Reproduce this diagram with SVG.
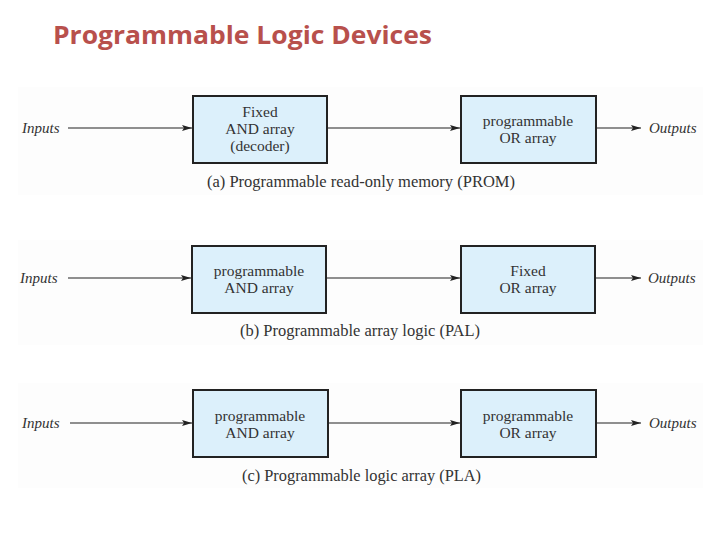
<svg xmlns="http://www.w3.org/2000/svg" width="720" height="540" viewBox="0 0 720 540">
<style>
.title{font-family:"Open Sans","Liberation Sans",sans-serif;font-weight:bold;font-size:25px;fill:#b8504c}
.box{fill:#dcf0fb;stroke:#222;stroke-width:2}
.bt{font-family:"Liberation Serif",serif;font-size:15.5px;fill:#333;text-anchor:middle}
.io{font-family:"Liberation Serif",serif;font-size:15px;font-style:italic;fill:#333}
.cap{font-family:"Liberation Serif",serif;font-size:16.5px;fill:#333}
.ln{stroke:#222;stroke-width:1.2;fill:none;marker-end:url(#ah)}
.panel{fill:#fdfdfd}
</style>
<defs>
<marker id="ah" markerWidth="10" markerHeight="6" refX="10" refY="3" orient="auto" markerUnits="userSpaceOnUse">
<path d="M0,0 L10,3 L0,6 L2,3 Z" fill="#222"/>
</marker>
</defs>
<rect width="720" height="540" fill="#fff"/>
<rect class="panel" x="18" y="87" width="685" height="108"/>
<rect class="panel" x="18" y="240" width="685" height="105"/>
<rect class="panel" x="18" y="383" width="685" height="105"/>
<text class="title" x="53" y="44" textLength="379" lengthAdjust="spacingAndGlyphs">Programmable Logic Devices</text>

<g id="connectors">
<line class="ln" x1="68" y1="128" x2="192" y2="128"/>
<line class="ln" x1="328" y1="128" x2="460" y2="128"/>
<line class="ln" x1="597" y1="128" x2="641" y2="128"/>
<line class="ln" x1="68" y1="278" x2="191" y2="278"/>
<line class="ln" x1="327" y1="278" x2="460" y2="278"/>
<line class="ln" x1="596" y1="278" x2="641" y2="278"/>
<line class="ln" x1="70" y1="423" x2="192" y2="423"/>
<line class="ln" x1="329" y1="423" x2="460" y2="423"/>
<line class="ln" x1="597" y1="423" x2="641" y2="423"/>
</g>

<g id="labels-io">
<text class="io" x="22" y="133">Inputs</text>
<text class="io" x="649" y="133">Outputs</text>
<text class="io" x="20" y="283">Inputs</text>
<text class="io" x="648" y="283">Outputs</text>
<text class="io" x="22" y="428">Inputs</text>
<text class="io" x="649" y="428">Outputs</text>
</g>

<g id="prom-and">
<rect class="box" x="193" y="96" width="134" height="67"/>
<text class="bt" x="260" y="117">Fixed</text>
<text class="bt" x="260" y="134">AND array</text>
<text class="bt" x="260" y="151">(decoder)</text>
</g>
<g id="prom-or">
<rect class="box" x="461" y="96" width="135" height="67"/>
<text class="bt" x="528" y="126">programmable</text>
<text class="bt" x="528" y="143">OR array</text>
</g>
<text class="cap" x="207" y="187" textLength="308" lengthAdjust="spacingAndGlyphs">(a) Programmable read-only memory (PROM)</text>

<g id="pal-and">
<rect class="box" x="192" y="246" width="134" height="67"/>
<text class="bt" x="259" y="276">programmable</text>
<text class="bt" x="259" y="293">AND array</text>
</g>
<g id="pal-or">
<rect class="box" x="461" y="246" width="134" height="67"/>
<text class="bt" x="528" y="276">Fixed</text>
<text class="bt" x="528" y="293">OR array</text>
</g>
<text class="cap" x="240" y="336" textLength="240" lengthAdjust="spacingAndGlyphs">(b) Programmable array logic (PAL)</text>

<g id="pla-and">
<rect class="box" x="193" y="390" width="135" height="67"/>
<text class="bt" x="260" y="421">programmable</text>
<text class="bt" x="260" y="438">AND array</text>
</g>
<g id="pla-or">
<rect class="box" x="461" y="390" width="135" height="67"/>
<text class="bt" x="528" y="421">programmable</text>
<text class="bt" x="528" y="438">OR array</text>
</g>
<text class="cap" x="242" y="481" textLength="239" lengthAdjust="spacingAndGlyphs">(c) Programmable logic array (PLA)</text>
</svg>
